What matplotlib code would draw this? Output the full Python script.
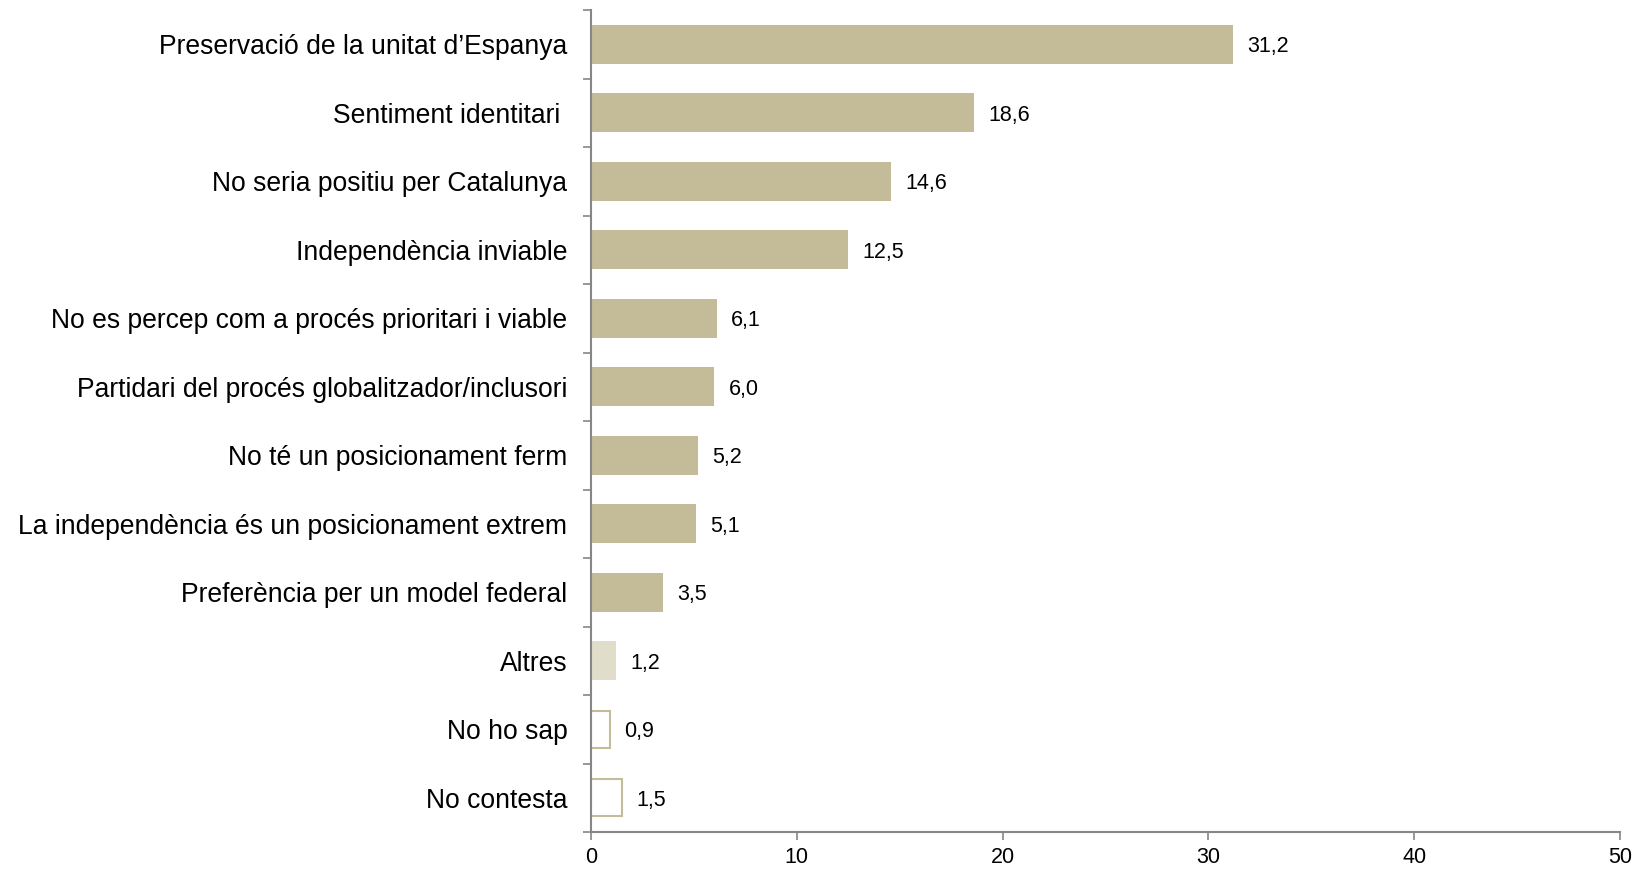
import matplotlib.pyplot as plt
import numpy as np

plt.rcParams['font.family'] = ['Liberation Sans', 'DejaVu Sans']

categories = [
    "Preservació de la unitat d’Espanya",
    "Sentiment identitari ",
    "No seria positiu per Catalunya",
    "Independència inviable",
    "No es percep com a procés prioritari i viable",
    "Partidari del procés globalitzador/inclusori",
    "No té un posicionament ferm",
    "La independència és un posicionament extrem",
    "Preferència per un model federal",
    "Altres",
    "No ho sap",
    "No contesta",
]
values = [31.2, 18.6, 14.6, 12.5, 6.1, 6.0, 5.2, 5.1, 3.5, 1.2, 0.9, 1.5]
labels = ["31,2", "18,6", "14,6", "12,5", "6,1", "6,0", "5,2", "5,1", "3,5", "1,2", "0,9", "1,5"]
xticks = [0, 10, 20, 30, 40, 50]

main = '#c4bc98'
light = '#e1ddcb'
axis_col = '#868686'

fig = plt.figure(figsize=(16.4, 8.69), dpi=100)
ax = fig.add_axes([591 / 1640, 1 - 832 / 869, (1620 - 591) / 1640, (832 - 10) / 869])

y = np.arange(len(categories))
for i, v in enumerate(values):
    if i < 9:
        ax.barh(i, v, height=0.57, color=main, edgecolor='none')
    elif i == 9:
        ax.barh(i, v, height=0.57, color=light, edgecolor='none')
    else:
        ax.barh(i, v, height=0.54, color='white', edgecolor=main, linewidth=1.5)
    ax.text(v + 0.7, i, labels[i], va='center_baseline', ha='left', fontsize=15.5, color='#000000')

ax.set_ylim(len(categories) - 0.5, -0.5)
ax.set_xlim(0, 50)
ax.set_yticks(y)
ax.set_yticklabels(categories, fontsize=19.1, va='center_baseline')
ax.set_yticks(np.arange(-0.5, len(categories) + 0.5, 1), minor=True)
ax.tick_params(axis='y', which='major', length=0, pad=17)
ax.tick_params(axis='y', which='minor', length=6, color=axis_col, width=1.2)
ax.set_xticks(xticks)
ax.set_xticklabels([str(t) for t in xticks], fontsize=15.5)
ax.tick_params(axis='x', length=6, color=axis_col, width=1.2, pad=5)

for s in ['top', 'right']:
    ax.spines[s].set_visible(False)
for s in ['left', 'bottom']:
    ax.spines[s].set_color(axis_col)
    ax.spines[s].set_linewidth(1.5)

fig.savefig('out.png', dpi=100)
